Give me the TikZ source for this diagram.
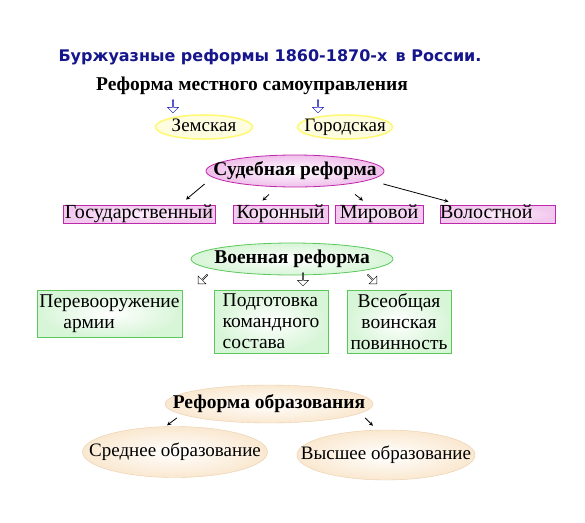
\documentclass[tikz,border=0pt]{standalone}
\usepackage{fontspec}
\setmainfont{Liberation Serif}
\newfontfamily\titlefont{DejaVu Sans}
\usepackage{tikz}
\usetikzlibrary{shapes.geometric, shapes.arrows, arrows}
\definecolor{titleblue}{RGB}{22,22,140}
\definecolor{sudpink}{RGB}{240,190,235}
\definecolor{sudline}{RGB}{190,40,170}
\definecolor{voengreen}{RGB}{215,245,215}
\definecolor{voenline}{RGB}{90,200,90}
\definecolor{obrfill}{RGB}{250,232,208}
\definecolor{obrline}{RGB}{235,205,170}
\tikzstyle{title} = [font=\titlefont\bfseries\fontsize{16}{18}\selectfont, text=titleblue]
\tikzstyle{head} = [font=\bfseries\fontsize{19.5}{21}\selectfont]
\tikzstyle{txt} = [font=\fontsize{19}{21}\selectfont]
\tikzstyle{flat} = [text height=13pt, text depth=4pt, execute at begin node={\setbox0=\hbox\bgroup}, execute at end node={\egroup\hbox to 0pt{\hss\box0\hss}}]
\tikzstyle{zem} = [ellipse, txt, flat, inner sep=0pt, fill=yellow!12, draw=yellow!55, line width=1.5pt]
\tikzstyle{sud} = [ellipse, head, flat, inner sep=0pt, inner color=white, outer color=sudpink, draw=sudline, thick]
\tikzstyle{sudbox} = [rectangle, font=\fontsize{20}{21}\selectfont, text height=13pt, text depth=4pt, inner sep=0pt, inner color=sudpink!25, outer color=sudpink!85, draw=sudline, thick, minimum height=18pt]
\tikzstyle{voen} = [ellipse, head, flat, inner sep=0pt, inner color=white, outer color=voengreen, draw=voenline, thick]
\tikzstyle{voenbox} = [rectangle, font=\fontsize{19.5}{21}\selectfont, inner sep=2pt, inner color=white, outer color=voengreen, draw=voenline, thick]
\tikzstyle{obr} = [ellipse, flat, inner sep=0pt, inner color=white, outer color=obrfill, draw=obrline]
\tikzstyle{hollow} = [single arrow, draw, fill=white, inner sep=0pt, minimum height=13pt, minimum width=11pt, single arrow head extend=2pt, single arrow tip angle=90, shape border uses incircle, shape border rotate=270]
\tikzstyle{arrow} = [thick, ->, >=stealth]

\begin{document}
\begin{tikzpicture}[x=1pt, y=-1pt]
\useasboundingbox[fill=white] (0,0) rectangle (585,522);
% title
\node (title) [title] at (270,57) {Буржуазные реформы 1860-1870-х\, в России.};
% local government
\node (mest) [head] at (252,86) {Реформа местного самоуправления};
\node (ar1) [hollow, draw=blue!70!black] at (173,106) {};
\node (ar2) [hollow, draw=blue!70!black] at (318,106) {};
\node (zemsk) [zem, minimum width=97pt, minimum height=22pt] at (204,127) {Земская\hspace{14pt}};
\node (gorod) [zem, minimum width=95pt, minimum height=22pt] at (345,127) {Городская};
% courts
\node (sudeb) [sud, minimum width=178pt, minimum height=32pt] at (295,171) {Судебная реформа};
\node (gos) [sudbox, minimum width=152pt] at (139,214) {Государственный};
\node (koron) [sudbox, minimum width=95pt] at (280.5,214) {Коронный};
\node (mir) [sudbox, minimum width=88pt] at (379,214) {Мировой};
\node (vol) [sudbox, text width=115pt, align=left] at (497.5,214) {Волостной};
\draw[arrow] ([xshift=-1pt,yshift=-13pt]sudeb.west) -- ([xshift=47pt,yshift=5pt]gos.north);
\draw[arrow] ([xshift=-26pt,yshift=-7pt]sudeb.south) -- ([xshift=-18pt,yshift=4pt]koron.north);
\draw[arrow] ([xshift=60pt,yshift=-7pt]sudeb.south) -- ([xshift=-16pt,yshift=4pt]mir.north);
\draw[arrow] ([xshift=-1pt,yshift=-13pt]sudeb.east) -- ([xshift=-49pt,yshift=3pt]vol.north);
% army
\node (voenn) [voen, minimum width=202pt, minimum height=32pt] at (292,259) {Военная реформа};
\node (ar3) [hollow, shape border rotate=225] at (203,279) {};
\node (ar4) [hollow] at (303,279) {};
\node (ar5) [hollow, shape border rotate=315] at (372,279) {};
\node (perev) [voenbox, minimum width=145pt, minimum height=47pt, align=left] at (109.5,313.5) {Перевооружение\\\hspace*{24pt}армии};
\node (podg) [voenbox, minimum width=114pt, minimum height=63pt, align=left] at (271,321.5) {Подготовка\\командного\\состава};
\node (vseob) [voenbox, minimum width=104pt, minimum height=63pt, align=center] at (399,321.5) {Всеобщая\\воинская\\повинность};
% education
\node (obraz) [obr, head, minimum width=208pt, minimum height=38pt] at (269,404) {Реформа образования};
\node (sredn) [obr, txt, minimum width=185pt, minimum height=51pt] at (175,452) {Среднее образование};
\node (vyssh) [obr, txt, minimum width=178pt, minimum height=50pt] at (386,455) {Высшее образование};
\draw[arrow] ([xshift=12pt,yshift=-14pt]obraz.west) -- ([xshift=-8pt,yshift=1pt]sredn.north);
\draw[arrow] ([xshift=-8pt,yshift=-14pt]obraz.east) -- ([xshift=-13pt,yshift=4pt]vyssh.north);
\end{tikzpicture}
\end{document}
